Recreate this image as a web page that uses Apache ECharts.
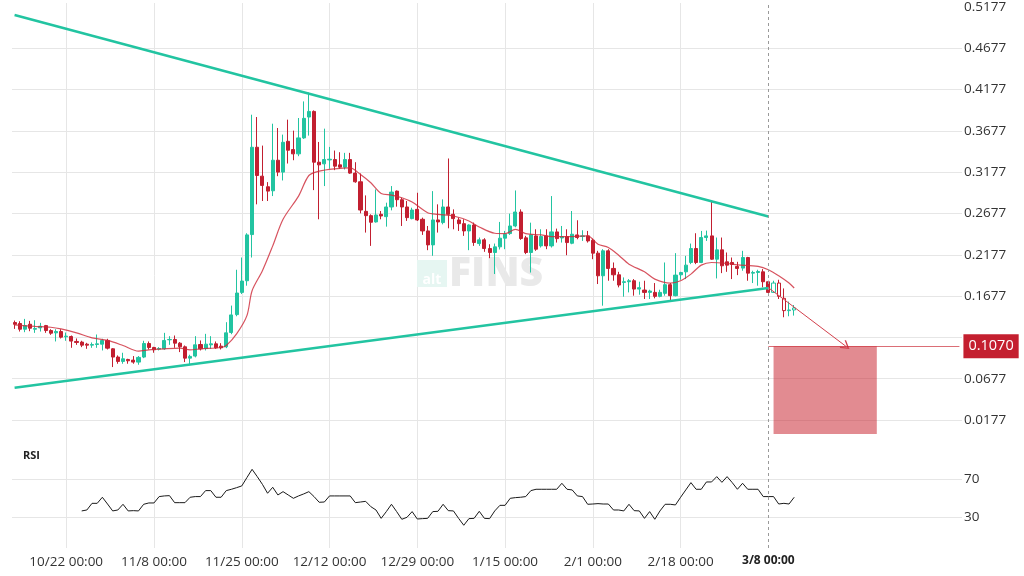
<!DOCTYPE html>
<html>
<head>
<meta charset="utf-8">
<script src="https://cdn.jsdelivr.net/npm/echarts@6/dist/echarts.min.js"></script>
<style>html,body{margin:0;padding:0;background:#fff}#c{width:1024px;height:576px}</style>
</head>
<body>
<div id="c"></div>
<script>
// ---------- data ----------
const startDate = [2022, 9, 12];   // first category (UTC y, m-1, d)
const dayCount = 184;              // categories on the axis
const tickDates = ['10/22', '11/8', '11/25', '12/12', '12/29', '1/15', '2/1', '2/18'];
const tickSuffix = ' 00:00';
const markerIndex = 146;
const markerLabel = '3/8 00:00';
const hollowFrom = 147;

// [open, close, low, high]
const candles = [
[0.1357,0.1336,0.1280,0.1381],[0.1345,0.1276,0.1248,0.1373],[0.1276,0.1320,0.1240,0.1401],[0.1336,0.1288,0.1252,0.1377],[0.1276,0.1284,0.1232,0.1385],
[0.1292,0.1312,0.1248,0.1353],[0.1320,0.1260,0.1232,0.1328],[0.1260,0.1228,0.1208,0.1276],[0.1232,0.1248,0.1128,0.1276],[0.1248,0.1180,0.1164,0.1276],
[0.1184,0.1192,0.1136,0.1236],[0.1188,0.1132,0.1051,0.1200],[0.1128,0.1116,0.1087,0.1164],[0.1120,0.1083,0.1059,0.1136],[0.1095,0.1083,0.1039,0.1111],
[0.1083,0.1091,0.1051,0.1116],[0.1091,0.1099,0.1051,0.1212],[0.1095,0.1140,0.1019,0.1160],[0.1140,0.1047,0.1031,0.1160],[0.1039,0.0939,0.0818,0.1047],
[0.0939,0.0886,0.0858,0.0959],[0.0886,0.0918,0.0858,0.0991],[0.0910,0.0894,0.0858,0.0918],[0.0902,0.0878,0.0858,0.0951],[0.0878,0.0935,0.0846,0.0951],
[0.0939,0.1103,0.0926,0.1136],[0.1103,0.1055,0.1031,0.1128],[0.1055,0.1027,0.0991,0.1063],[0.1035,0.1043,0.1019,0.1059],[0.1039,0.1140,0.1027,0.1232],
[0.1148,0.1152,0.1087,0.1192],[0.1152,0.1107,0.1051,0.1200],[0.1107,0.1063,0.0999,0.1120],[0.1063,0.0926,0.0878,0.1079],[0.0926,0.0947,0.0846,0.0967],
[0.0951,0.1087,0.0935,0.1192],[0.1091,0.1039,0.1019,0.1140],[0.1043,0.1095,0.1019,0.1220],[0.1087,0.1099,0.1039,0.1192],[0.1099,0.1051,0.1039,0.1128],
[0.1071,0.1051,0.1031,0.1107],[0.1063,0.1232,0.1047,0.1361],[0.1236,0.1449,0.1216,0.1562],[0.1453,0.1714,0.1433,0.1996],[0.1722,0.1859,0.1702,0.2144],
[0.1863,0.2418,0.1803,0.2438],[0.2422,0.3479,0.2144,0.3873],[0.3479,0.3137,0.2788,0.3845],[0.3129,0.3017,0.2828,0.3499],[0.3001,0.2948,0.2828,0.3057],
[0.2952,0.3322,0.2888,0.3764],[0.3322,0.3178,0.3129,0.3712],[0.3178,0.3539,0.3077,0.3632],[0.3551,0.3443,0.3282,0.3813],[0.3451,0.3399,0.3322,0.3680],
[0.3399,0.3592,0.3371,0.3833],[0.3592,0.3829,0.3580,0.4034],[0.3845,0.3913,0.3620,0.4142],[0.3913,0.3298,0.2960,0.3925],[0.3298,0.3266,0.2607,0.3543],
[0.3278,0.3330,0.3009,0.3704],[0.3326,0.3334,0.3218,0.3483],[0.3330,0.3250,0.3202,0.3439],[0.3266,0.3238,0.3218,0.3419],[0.3238,0.3330,0.3210,0.3411],
[0.3330,0.3166,0.3157,0.3411],[0.3166,0.3061,0.3049,0.3298],[0.3061,0.2719,0.2679,0.3162],[0.2703,0.2651,0.2446,0.2896],[0.2651,0.2571,0.2285,0.2667],
[0.2575,0.2659,0.2567,0.2968],[0.2667,0.2647,0.2607,0.2707],[0.2639,0.2756,0.2518,0.2808],[0.2756,0.2936,0.2715,0.3009],[0.2948,0.2844,0.2760,0.2956],
[0.2844,0.2756,0.2526,0.2868],[0.2756,0.2627,0.2587,0.2828],[0.2615,0.2719,0.2607,0.2747],[0.2727,0.2599,0.2587,0.2928],[0.2607,0.2466,0.2418,0.2627],
[0.2466,0.2297,0.2233,0.2526],[0.2297,0.2599,0.2165,0.2948],[0.2599,0.2575,0.2446,0.2788],[0.2567,0.2756,0.2546,0.2848],[0.2756,0.2667,0.2498,0.3343],
[0.2667,0.2615,0.2486,0.2727],[0.2599,0.2554,0.2466,0.2627],[0.2554,0.2466,0.2406,0.2607],[0.2466,0.2538,0.2233,0.2546],[0.2538,0.2326,0.2285,0.2567],
[0.2313,0.2358,0.2285,0.2386],[0.2358,0.2253,0.2213,0.2378],[0.2253,0.2205,0.2136,0.2305],[0.2205,0.2273,0.1944,0.2313],[0.2273,0.2378,0.2241,0.2575],
[0.2378,0.2426,0.2245,0.2466],[0.2434,0.2526,0.2418,0.2675],[0.2526,0.2695,0.2510,0.2956],[0.2695,0.2374,0.2358,0.2727],[0.2382,0.2205,0.2185,0.2406],
[0.2205,0.2418,0.1962,0.2566],[0.2406,0.2245,0.2225,0.2486],[0.2285,0.2398,0.2265,0.2486],[0.2406,0.2285,0.2245,0.2486],[0.2285,0.2454,0.2265,0.2888],
[0.2454,0.2373,0.2325,0.2494],[0.2381,0.2398,0.2325,0.2526],[0.2398,0.2325,0.2172,0.2486],[0.2317,0.2426,0.2305,0.2707],[0.2418,0.2386,0.2365,0.2595],
[0.2398,0.2406,0.2345,0.2474],[0.2406,0.2345,0.2325,0.2466],[0.2353,0.2197,0.2124,0.2373],[0.2197,0.1923,0.1823,0.2225],[0.1923,0.2225,0.1561,0.2245],
[0.2225,0.2012,0.1863,0.2245],[0.2012,0.1935,0.1863,0.2084],[0.1935,0.1811,0.1783,0.1971],[0.1843,0.1851,0.1670,0.1903],[0.1851,0.1863,0.1722,0.1883],
[0.1863,0.1762,0.1682,0.1883],[0.1762,0.1779,0.1694,0.1851],[0.1750,0.1722,0.1642,0.1863],[0.1722,0.1738,0.1642,0.1754],[0.1722,0.1674,0.1650,0.1835],
[0.1674,0.1722,0.1662,0.1754],[0.1710,0.1815,0.1682,0.2084],[0.1815,0.1682,0.1622,0.1835],[0.1682,0.1931,0.1674,0.2197],[0.1935,0.1963,0.1875,0.1971],
[0.1971,0.2052,0.1883,0.2164],[0.2084,0.2253,0.2064,0.2313],[0.2253,0.2084,0.2064,0.2438],[0.2084,0.2386,0.2076,0.2466],[0.2386,0.2406,0.2345,0.2470],
[0.2406,0.2124,0.2116,0.2816],[0.2124,0.2237,0.1891,0.2386],[0.2237,0.2044,0.1955,0.2386],[0.2092,0.2052,0.1971,0.2205],[0.2084,0.2060,0.1883,0.2144],
[0.2036,0.2012,0.1931,0.2092],[0.2016,0.2144,0.1984,0.2225],[0.2144,0.1955,0.1863,0.2152],[0.1955,0.1963,0.1835,0.1984],[0.1963,0.1975,0.1803,0.1996],
[0.1971,0.1851,0.1783,0.2004],[0.1851,0.1722,0.1714,0.1863],[0.1722,0.1835,0.1714,0.1863],[0.1835,0.1674,0.1642,0.1875],[0.1650,0.1501,0.1421,0.1770],
[0.1501,0.1509,0.1433,0.1610],[0.1509,0.1533,0.1441,0.1569]
];

// moving average, read at [dayIndex, value]
const maPoints = [[0,0.1328],[4,0.1310],[7,0.1300],[9,0.1280],[12,0.1232],[15,0.1172],[18,0.1140],[21,0.1079],[24,0.1011],[26,0.1027],
[29,0.1039],[32,0.1047],[34,0.1027],[36,0.1039],[40,0.1055],[41,0.1079],[43,0.1220],[45,0.1441],[46,0.1742],[48,0.1984],[50,0.2285],
[52,0.2607],[55,0.2888],[57,0.3137],[59,0.3190],[62,0.3218],[65,0.3230],[67,0.3149],[69,0.3049],[71,0.2920],[73,0.2900],[75,0.2868],
[77,0.2816],[80,0.2687],[82,0.2667],[85,0.2647],[88,0.2587],[90,0.2514],[93,0.2438],[95,0.2434],[97,0.2486],[99,0.2434],[102,0.2418],
[104,0.2398],[108,0.2398],[111,0.2406],[113,0.2305],[115,0.2265],[117,0.2172],[119,0.2064],[122,0.1971],[124,0.1883],[127,0.1835],
[129,0.1863],[131,0.1943],[133,0.2052],[135,0.2084],[138,0.2072],[140,0.2056],[144,0.2036],[146,0.1996],[148,0.1923],[150,0.1835],[151,0.1775]];

const rsiStart = 13;
const rsiValues = [
36.7,37.7,44.7,44.7,51.1,44.0,36.7,37.7,43.7,36.7,37.0,36.7,43.7,45.1,45.1,51.8,52.5,52.8,45.4,45.4,
45.4,51.1,51.8,51.8,58.1,58.1,51.1,51.1,58.1,59.5,61.2,63.0,71.8,80.5,72.8,64.7,55.3,61.6,53.5,57.0,
53.5,50.0,52.5,54.6,57.0,51.8,45.8,46.1,52.5,52.5,52.5,52.5,52.5,45.4,46.1,46.8,41.2,37.7,28.9,36.0,
43.7,36.0,27.9,30.0,36.0,28.2,28.6,28.9,36.0,36.3,43.7,37.0,36.7,28.9,21.6,28.6,28.9,36.3,28.9,28.6,
36.7,42.6,42.6,50.0,50.7,51.1,51.8,58.1,59.5,59.5,59.5,59.5,59.5,65.8,59.5,58.8,52.5,51.8,43.7,44.0,
44.4,44.0,44.0,37.7,37.7,36.7,43.7,37.0,36.7,28.9,36.0,27.9,36.7,43.7,43.7,43.0,51.1,58.8,66.5,59.5,
59.5,67.2,67.2,72.8,66.8,72.8,66.5,59.5,65.8,59.5,59.5,59.5,51.8,51.8,51.8,44.0,44.7,44.0,51.1];

// triangle trend lines [dayIndex, value]
const upperTrend = [[0, 0.5081], [146, 0.2640]];
const lowerTrend = [[0, 0.0568], [146, 0.1775]];
// projection
const arrowFrom = [146, 0.1779];
const arrowTo = [161, 0.1070];
const targetPrice = 0.1070;
const targetLineEnd = 183;
const targetBox = [[147, 0.1070], [167, 0.0006]];

// ---------- build ----------
const categories = [];
const d0 = Date.UTC(startDate[0], startDate[1], startDate[2]);
for (let i = 0; i < dayCount; i++) {
  const d = new Date(d0 + i * 86400000);
  categories.push((d.getUTCMonth() + 1) + '/' + d.getUTCDate());
}
const teal = '#22c4a1', red = '#c21f30';
const candleData = candles.map((r, i) => i >= hollowFrom
  ? { value: r, itemStyle: { color: '#ffffff', color0: '#ffffff' } }
  : r);
const rsiData = rsiValues.map((v, i) => [rsiStart + i, v]);
const isTick = (idx, val) => tickDates.indexOf(val) >= 0;
const chevron = 'path://M5,0 L10,8 L9,9 L5,2.6 L1,9 L0,8 Z';

const chart = echarts.init(document.getElementById('c'), null, { renderer: 'canvas' });
chart.setOption({
  animation: false,
  backgroundColor: '#ffffff',
  textStyle: { fontFamily: 'Open Sans' },
  title: { text: 'RSI', left: 18, top: 445, textStyle: { fontSize: 11, fontWeight: 'bold', color: '#222', fontFamily: 'Open Sans' } },
  graphic: [
    { type: 'rect', z: 1, shape: { x: 417, y: 260, width: 30, height: 27 }, style: { fill: '#e6f6f2' } },
    { type: 'text', z: 1, x: 432, y: 280, style: { text: 'alt', fill: '#ffffff', font: 'bold 14px "Open Sans"', align: 'center', verticalAlign: 'middle' } },
    { type: 'text', z: 1, x: 449, y: 274, style: { text: 'FINS', fill: '#e9e9e9', font: '800 41px "Open Sans"', align: 'left', verticalAlign: 'middle' } }
  ],
  grid: [
    { left: 12, right: 62, top: 5.2, height: 456.1 },
    { left: 12, right: 62, top: 441.3, height: 114 },
    { left: 14.58, right: 64.58, top: 3, height: 545 }
  ],
  xAxis: [
    { type: 'category', gridIndex: 0, data: categories, show: false },
    { type: 'category', gridIndex: 1, data: categories, show: false },
    { type: 'category', gridIndex: 2, data: categories, boundaryGap: false,
      axisLine: { show: false }, axisTick: { show: false },
      axisLabel: {
        interval: (idx, val) => isTick(idx, val) || idx === markerIndex,
        formatter: (val, idx) => idx === markerIndex ? '{b|' + markerLabel + '}' : val + tickSuffix,
        margin: 7, fontSize: 13.5, color: '#333', fontFamily: 'Open Sans',
        rich: { b: { fontWeight: 'bold', fontSize: 12, color: '#222', fontFamily: 'Open Sans' } }
      },
      splitLine: { show: true, interval: (idx, val) => isTick(idx, val), lineStyle: { color: '#e6e6e6', width: 1 } }
    }
  ],
  yAxis: [
    { type: 'value', gridIndex: 0, position: 'right', min: -0.0323, max: 0.5177, interval: 0.05,
      axisLine: { show: false }, axisTick: { show: false },
      axisLabel: { formatter: v => Math.abs(v - targetPrice) < 0.02 ? '' : v.toFixed(4), showMinLabel: false, margin: 2, fontSize: 13.5, color: '#333', fontFamily: 'Open Sans', padding: [5, 0, 0, 0] },
      splitLine: { show: true, showMinLine: false, showMaxLine: false, lineStyle: { color: '#e6e6e6', width: 1 } } },
    { type: 'value', gridIndex: 1, position: 'right', min: -10, max: 110, interval: 40,
      axisLine: { show: false }, axisTick: { show: false },
      axisLabel: { showMinLabel: false, showMaxLabel: false, margin: 2, fontSize: 13.5, color: '#333', fontFamily: 'Open Sans', padding: [5, 0, 0, 0] },
      splitLine: { show: true, showMinLine: false, showMaxLine: false, lineStyle: { color: '#e6e6e6', width: 1 } } },
    { type: 'value', gridIndex: 2, min: 0, max: 1, show: false }
  ],
  series: [
    { type: 'line', xAxisIndex: 2, yAxisIndex: 2, data: [], silent: true,
      markLine: { silent: true, symbol: ['none', 'none'], label: { show: false },
        lineStyle: { color: '#9a9a9a', type: [3, 3], width: 1 },
        data: [{ xAxis: markerIndex }] } },
    { type: 'candlestick', xAxisIndex: 0, yAxisIndex: 0, data: candleData, barWidth: 3.6, clip: false,
      itemStyle: { color: teal, color0: red, borderColor: teal, borderColor0: red, borderWidth: 1 },
      markArea: { silent: true, itemStyle: { color: 'rgba(200,32,45,0.52)' },
        data: [[{ coord: targetBox[0] }, { coord: targetBox[1] }]] },
      markLine: { silent: true, symbol: ['none', 'none'], label: { show: false },
        data: [
          [{ coord: arrowFrom, symbol: 'none', lineStyle: { color: '#d3404c', width: 1, type: 'solid' } },
           { coord: arrowTo, symbol: chevron, symbolSize: [10, 9] }],
          [{ coord: [markerIndex, targetPrice], symbol: 'none', lineStyle: { color: 'rgba(200,32,45,0.65)', width: 1, type: 'solid' },
             label: { show: true, position: 'end', distance: 4, formatter: targetPrice.toFixed(4), backgroundColor: '#c41f2f', color: '#ffffff',
               padding: [5, 5, 4, 5], lineHeight: 15, fontSize: 14.5, fontFamily: 'Open Sans' } },
           { coord: [targetLineEnd, targetPrice], symbol: 'none' }]
        ] } },
    { type: 'line', xAxisIndex: 0, yAxisIndex: 0, data: maPoints, smooth: 0.3, symbol: 'none', silent: true,
      lineStyle: { color: 'rgba(205,40,55,0.8)', width: 1.2 } },
    { type: 'line', xAxisIndex: 0, yAxisIndex: 0, data: upperTrend, symbol: 'none', silent: true,
      lineStyle: { color: teal, width: 2.5 } },
    { type: 'line', xAxisIndex: 0, yAxisIndex: 0, data: lowerTrend, symbol: 'none', silent: true,
      lineStyle: { color: teal, width: 2.5 } },
    { type: 'line', xAxisIndex: 1, yAxisIndex: 1, data: rsiData, symbol: 'none', silent: true,
      lineStyle: { color: '#1a1a1a', width: 1 } }
  ]
});
</script>
</body>
</html>
